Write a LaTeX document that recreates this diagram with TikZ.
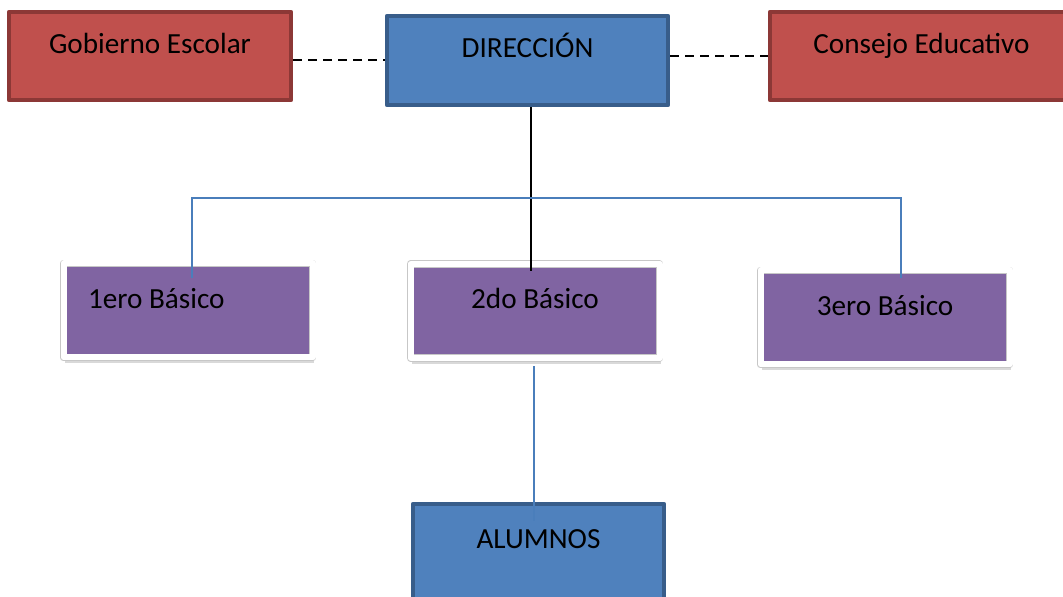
\documentclass[tikz,border=0pt]{standalone}
\usepackage{fontspec}
\setmainfont{Carlito}
\usepackage{tikz}
\usetikzlibrary{calc, shadows}
\definecolor{rojofondo}{RGB}{192,80,77}
\definecolor{rojoborde}{RGB}{140,56,54}
\definecolor{azulfondo}{RGB}{79,129,189}
\definecolor{azulborde}{RGB}{56,93,138}
\definecolor{moradofondo}{RGB}{128,100,162}
\definecolor{lineaazul}{RGB}{74,126,187}

\begin{document}
\begin{tikzpicture}[x=0.5pt, y=-0.5pt,
      caja/.style={rectangle, line width=2.25pt, line join=round,
                   inner xsep=0pt, inner ysep=0pt,
                   text height=21pt, text depth=23pt,
                   font=\fontsize{14.6}{17}\selectfont},
      consejo/.style={caja, draw=rojoborde, fill=rojofondo},
      mando/.style={caja, draw=azulborde, fill=azulfondo},
      curso/.style={caja, draw=black!22, fill=moradofondo, line width=0.45pt,
                    double=white, double distance=3pt,
                    text height=22.5pt, text depth=24.5pt,
                    minimum width=124.5pt,
                    drop shadow={shadow xshift=0.5pt, shadow yshift=-3pt,
                                 opacity=0.3}},
      punteada/.style={dash pattern=on 4.5pt off 3pt, line width=1pt},
      rama/.style={draw=lineaazul, line width=0.8pt}]
    \path[use as bounding box] (0,0) rectangle (1063,597);
    \clip (0,0) rectangle (1063,597);

    \node[consejo, minimum width=141pt] (gob) at (150,56) {Gobierno Escolar};
    \node[mando, minimum width=140.5pt, text depth=23.5pt] (dir) at (527.5,60.5)
          {DIRECCIÓN};
    \node[consejo, minimum width=151.5pt] (cons) at (921.5,56) {Consejo Educativo};

    \node[curso, align=flush left, text width=100pt, inner xsep=12.25pt] (b1)
          at (188,310.5) {1ero Básico};
    \node[curso] (b2) at (535,311) {2do Básico};
    \node[curso] (b3) at (885,317.5) {3ero Básico};

    \node[mando, minimum width=125.5pt, text height=22pt, text depth=30pt] (alum)
          at (538.5,556) {ALUMNOS};

    \draw[punteada] (dir.west -| gob.east) -- (dir.west);
    \draw[punteada] (cons.west -| dir.east) -- (cons.west);
    \draw[line width=1pt] ($(dir.south)+(1.5pt,0)$)
          -- ($(dir.south |- b2.north)+(1.5pt,-3.75pt)$);

    % ramas de los cursos
    \coordinate (cruce) at (530,198);
    \draw[rama] ($(b1.north)+(2pt,-7.5pt)$) |- (cruce)
          -| ($(b3.north)+(8pt,-4pt)$);
    \draw[rama] ($(b2.south)+(-0.5pt,-4pt)$)
          -- ($(alum.north -| b2.south)+(-0.5pt,-9.5pt)$);
  \end{tikzpicture}
\end{document}
